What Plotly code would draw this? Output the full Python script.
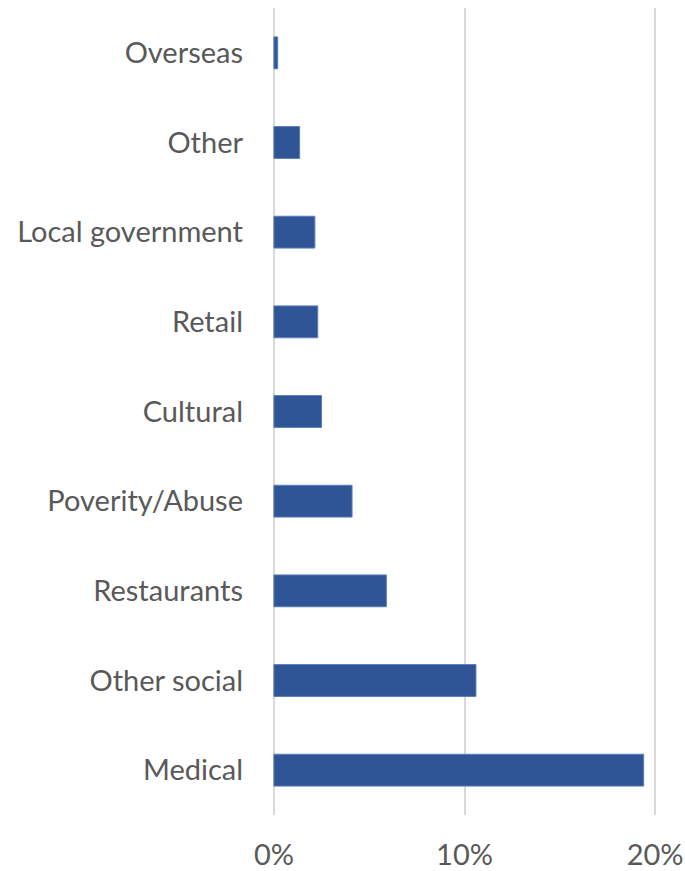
import plotly.graph_objects as go

categories = ["Medical", "Other social", "Restaurants", "Poverity/Abuse", "Cultural",
              "Retail", "Local government", "Other", "Overseas"]
values = [19.4, 10.6, 5.9, 4.1, 2.5, 2.3, 2.15, 1.35, 0.2]
x_tickvals = [0, 10, 20]
x_ticktext = ["0%", "10%", "20%"]

fig = go.Figure(go.Bar(
    x=values, y=categories, orientation="h",
    marker=dict(color="#2F5597", line=dict(color="#5B7DBA", width=1)),
    width=0.355,
))

fig.update_layout(
    width=685, height=871,
    margin=dict(l=272, r=28, t=8, b=56),
    plot_bgcolor="white", paper_bgcolor="white",
    font=dict(family="Lato, Open Sans, sans-serif", size=29, color="#595959"),
    showlegend=False,
    bargap=0.645,
)
fig.update_xaxes(
    range=[-0.1, 20.1], tickvals=x_tickvals, ticktext=x_ticktext,
    showgrid=True, gridcolor="#D9D9D9", gridwidth=1.5,
    zeroline=False, showline=False, ticks="", ticklabelstandoff=20,
    automargin=False,
)
fig.update_yaxes(
    showgrid=False, zeroline=False, showline=False, ticks="",
    ticklabelstandoff=28, range=[-0.5, 8.5], automargin=False,
)

fig.write_html("out.html",
               config={"displayModeBar": False},
               post_script="document.body.style.margin='0';document.body.style.overflow='hidden';")
